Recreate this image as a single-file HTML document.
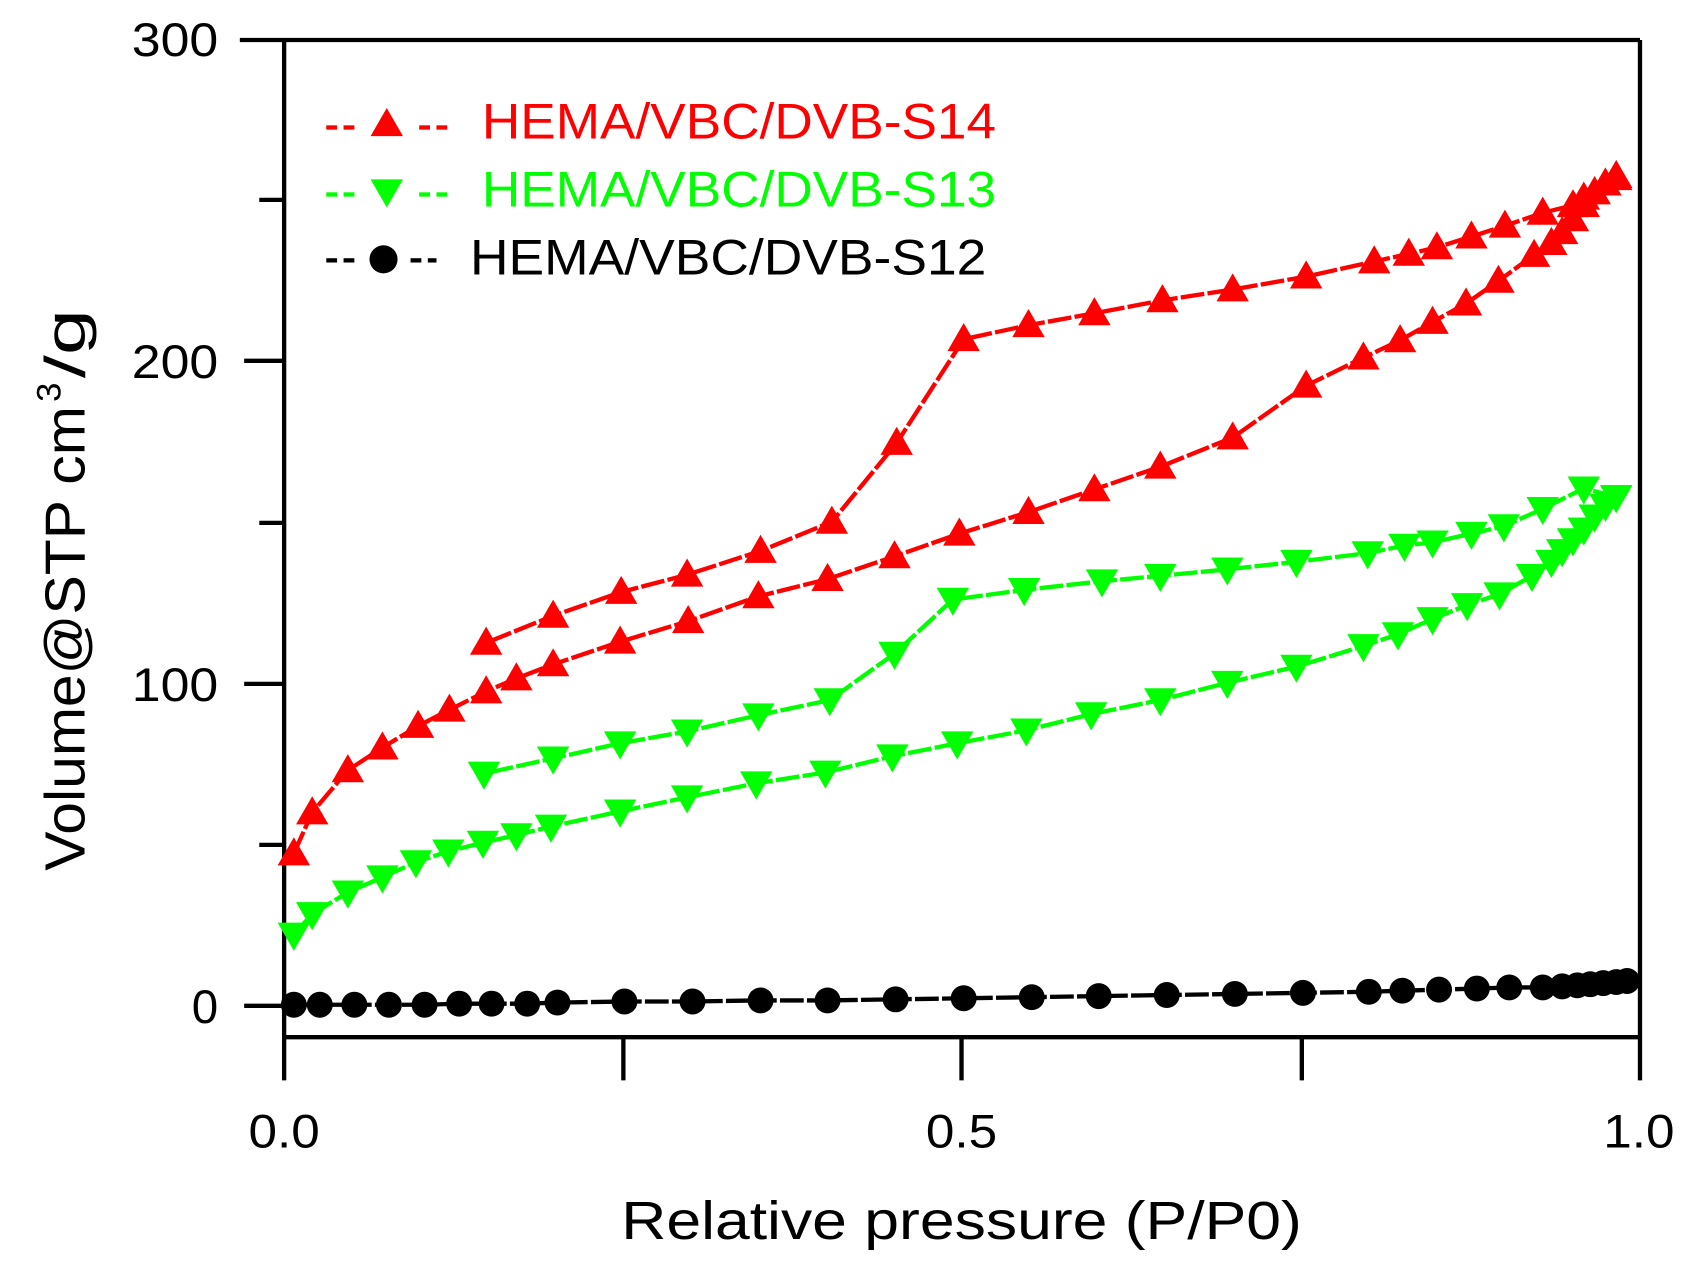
<!DOCTYPE html>
<html><head><meta charset="utf-8"><style>html,body{margin:0;padding:0;background:#fff}svg{display:block}text{font-family:"Liberation Sans",Arial,sans-serif}</style></head>
<body>
<svg width="1694" height="1273" viewBox="0 0 1568 1178.3" preserveAspectRatio="none" xmlns="http://www.w3.org/2000/svg">
<defs>
<path id="tu" d="M0,-15 L15,11 L-15,11 Z"/>
<path id="td" d="M0,15 L15,-11 L-15,-11 Z"/>
</defs>
<rect width="1568" height="1179" fill="#fff"/>
<g stroke="#000" stroke-width="4" fill="none">
<line x1="263" y1="37" x2="263" y2="1000"/>
<line x1="222" y1="37" x2="1518" y2="37"/>
<line x1="1518" y1="37" x2="1518" y2="1000"/>
<line x1="263" y1="960" x2="1518" y2="960"/>
<line x1="226" y1="931" x2="263" y2="931"/>
<line x1="226" y1="633" x2="263" y2="633"/>
<line x1="226" y1="334" x2="263" y2="334"/>
<line x1="240" y1="782" x2="263" y2="782"/>
<line x1="240" y1="484" x2="263" y2="484"/>
<line x1="240" y1="185" x2="263" y2="185"/>
<line x1="577" y1="960" x2="577" y2="1000"/>
<line x1="890" y1="960" x2="890" y2="1000"/>
<line x1="1205" y1="960" x2="1205" y2="1000"/>
</g>
<g font-size="44" fill="#000" text-anchor="end">
<text x="202" y="52" textLength="80" lengthAdjust="spacingAndGlyphs">300</text>
<text x="202" y="350" textLength="80" lengthAdjust="spacingAndGlyphs">200</text>
<text x="202" y="649" textLength="80" lengthAdjust="spacingAndGlyphs">100</text>
<text x="202" y="947">0</text>
</g>
<g font-size="44" fill="#000">
<text x="230" y="1062" textLength="66" lengthAdjust="spacingAndGlyphs">0.0</text>
<text x="857" y="1062" textLength="66" lengthAdjust="spacingAndGlyphs">0.5</text>
<text x="1484" y="1062" textLength="66" lengthAdjust="spacingAndGlyphs">1.0</text>
</g>
<text x="575" y="1147" font-size="50" textLength="630" lengthAdjust="spacingAndGlyphs">Relative pressure (P/P0)</text>
<g transform="translate(78,0) rotate(-90)">
<text x="-806" y="0" font-size="52" textLength="430" lengthAdjust="spacingAndGlyphs">Volume@STP cm</text>
<text x="-372" y="-22" font-size="32">3</text>
<text x="-350" y="0" font-size="52" textLength="64" lengthAdjust="spacingAndGlyphs">/g</text>
</g>
<g font-size="46" stroke-width="4">
<g stroke="#f00"><line x1="302" y1="118" x2="312" y2="118"/><line x1="318" y1="118" x2="328" y2="118"/><line x1="388" y1="118" x2="398" y2="118"/><line x1="404" y1="118" x2="414" y2="118"/></g>
<use href="#tu" x="358" y="115" fill="#f00"/>
<text x="446" y="128" fill="#f00" textLength="476" lengthAdjust="spacingAndGlyphs">HEMA/VBC/DVB-S14</text>
<g stroke="#0f0"><line x1="302" y1="180" x2="312" y2="180"/><line x1="318" y1="180" x2="328" y2="180"/><line x1="388" y1="180" x2="398" y2="180"/><line x1="404" y1="180" x2="414" y2="180"/></g>
<use href="#td" x="358" y="177" fill="#0f0"/>
<text x="446" y="191" fill="#0f0" textLength="476" lengthAdjust="spacingAndGlyphs">HEMA/VBC/DVB-S13</text>
<g stroke="#000"><line x1="302" y1="241" x2="312" y2="241"/><line x1="318" y1="241" x2="328" y2="241"/><line x1="380" y1="241" x2="390" y2="241"/><line x1="396" y1="241" x2="404" y2="241"/></g>
<circle cx="355" cy="240" r="13" fill="#000"/>
<text x="435" y="254" fill="#000" textLength="478" lengthAdjust="spacingAndGlyphs">HEMA/VBC/DVB-S12</text>
</g>
<g id="s"></g>
<script>
const NS="http://www.w3.org/2000/svg",g=document.getElementById("s");
function P(s){return s.trim().split(/\s+/).map(p=>p.split(",").map(Number));}
function series(pts,col,mk){
 const pl=document.createElementNS(NS,"polyline");
 pl.setAttribute("points",pts.map(p=>p.join(",")).join(" "));
 pl.setAttribute("fill","none");pl.setAttribute("stroke",col);pl.setAttribute("stroke-width","4");pl.setAttribute("stroke-dasharray","22 3");
 g.appendChild(pl);
 pts.forEach(p=>{let e;
  if(mk=="c"){e=document.createElementNS(NS,"circle");e.setAttribute("cx",p[0]);e.setAttribute("cy",p[1]);e.setAttribute("r","12");}
  else{e=document.createElementNS(NS,"use");e.setAttribute("href","#"+mk);e.setAttribute("x",p[0]);e.setAttribute("y",p[1]);}
  e.setAttribute("fill",col);g.appendChild(e);});
}
series(P("272,790 289,752 322,713 354,692 387,672 416,657 450,640 478,628 512,615 574,594 637,575 702,552 766,536 828,515 888,494 952,474 1013,453 1074,432 1141,405 1209,357 1262,331 1296,315 1326,298 1357,281 1387,260 1420,236 1436,225 1446,215 1456,203 1466,190 1476,178 1486,170 1496,165"),"#f00","tu");
series(P("1496,163 1486,170 1476,178 1466,183 1456,190 1428,197 1393,209 1362,219 1330,229 1304,235 1272,242 1209,256 1141,268 1076,278 1013,290 952,301 892,314 830,410 770,483 704,510 636,532 575,548 512,570 450,595"),"#f00","tu");
series(P("272,865 289,846 322,826 354,812 385,798 415,788 447,780 478,773 510,765 574,751 636,738 700,725 764,715 826,700 886,688 950,676 1010,661 1074,648 1136,632 1200,617 1262,598 1294,587 1326,573 1358,560 1388,550 1418,533 1436,520 1446,510 1456,500 1466,490 1476,478 1486,468 1496,460"),"#0f0","td");
series(P("1496,460 1466,452 1428,471 1392,487 1362,494 1326,502 1300,505 1266,512 1200,520 1136,527 1074,533 1020,538 948,546 882,555 828,605 768,648 702,662 636,677 574,688 512,702 448,716"),"#0f0","td");
series(P("272,930 296,930 328,930 360,930 393,930 425,929 455,929 488,929 516,928 578,927 641,927 704,926 766,926 829,925 892,924 955,923 1017,922 1080,921 1143,920 1206,919 1267,918 1298,917 1332,916 1367,915 1397,914 1428,914 1446,913 1460,912 1472,911 1484,910 1496,909 1506,908"),"#000","c");
</script>
</svg>
</body></html>
